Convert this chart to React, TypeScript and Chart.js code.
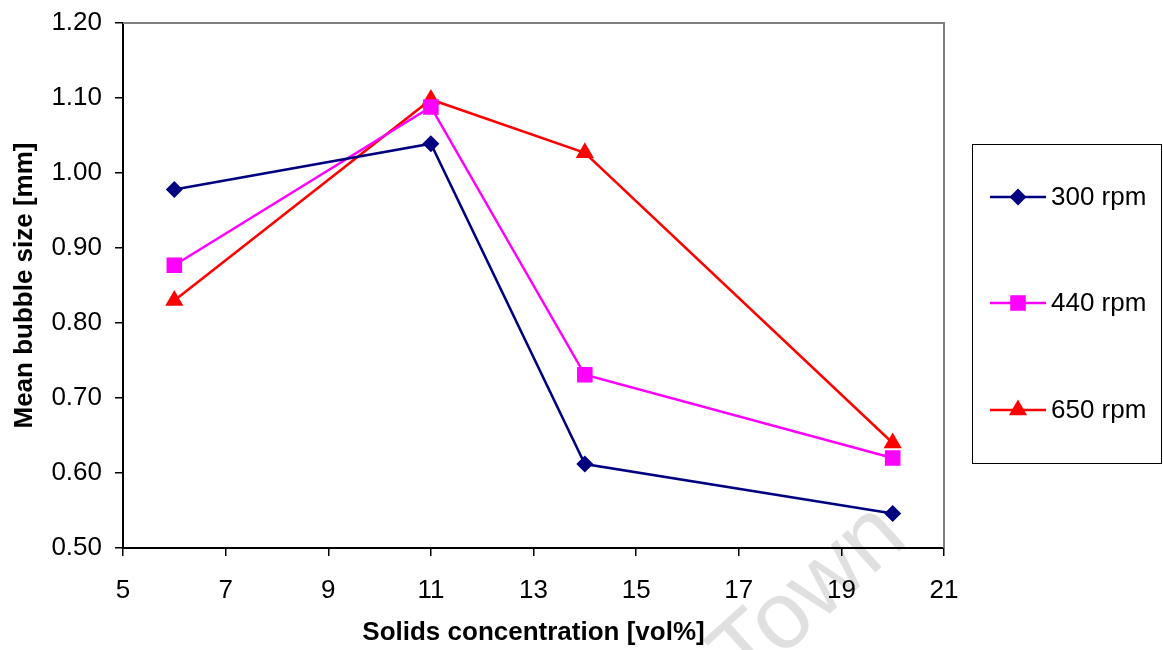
import React, { useEffect, useRef } from 'react';
import { Chart, registerables } from 'chart.js';

Chart.register(...registerables);

const xValues = [6, 11, 14, 20];
const rpm300 = [0.978, 1.039, 0.612, 0.546];
const rpm440 = [0.877, 1.088, 0.731, 0.620];
const rpm650 = [0.830, 1.098, 1.027, 0.640];
const seriesLabels = ['300 rpm', '440 rpm', '650 rpm'];
const seriesColors = ['#000080', '#FF00FF', '#FF0000'];
const seriesStyles = ['rectRot', 'rect', 'triangle'];
const seriesRadii = [8.5, 11, 10.5];
const xTitle = 'Solids concentration [vol%]';
const yTitle = 'Mean bubble size [mm]';
const watermark = 'Town';

const FONT = '"Liberation Sans", Arial, sans-serif';

function drawMarker(ctx: CanvasRenderingContext2D, style: string, r: number, x: number, y: number) {
  ctx.beginPath();
  if (style === 'rectRot') {
    ctx.moveTo(x, y - r);
    ctx.lineTo(x + r, y);
    ctx.lineTo(x, y + r);
    ctx.lineTo(x - r, y);
    ctx.closePath();
  } else if (style === 'rect') {
    const s = r * Math.SQRT1_2;
    ctx.rect(x - s, y - s, 2 * s, 2 * s);
  } else {
    ctx.moveTo(x, y - r);
    ctx.lineTo(x + r * 0.866, y + r * 0.5);
    ctx.lineTo(x - r * 0.866, y + r * 0.5);
    ctx.closePath();
  }
  ctx.fill();
}

const framePlugin = {
  id: 'frame',
  beforeDraw(chart: any) {
    const ctx = chart.ctx as CanvasRenderingContext2D;
    ctx.save();
    ctx.fillStyle = '#ffffff';
    ctx.fillRect(0, 0, chart.width, chart.height);
    ctx.translate(745, 690);
    ctx.rotate(-42 * Math.PI / 180);
    ctx.fillStyle = '#e0e0e0';
    ctx.font = `95px ${FONT}`;
    ctx.textBaseline = 'alphabetic';
    ctx.textAlign = 'left';
    ctx.fillText(watermark, 0, 0);
    ctx.restore();
  },
  beforeDatasetsDraw(chart: any) {
    const { ctx, chartArea } = chart;
    ctx.save();
    ctx.strokeStyle = '#808080';
    ctx.lineWidth = 2;
    ctx.beginPath();
    ctx.moveTo(chartArea.left, chartArea.top);
    ctx.lineTo(chartArea.right, chartArea.top);
    ctx.lineTo(chartArea.right, chartArea.bottom);
    ctx.stroke();
    ctx.restore();
  },
  afterDraw(chart: any) {
    const ctx = chart.ctx as CanvasRenderingContext2D;
    ctx.save();
    ctx.strokeStyle = '#000000';
    ctx.lineWidth = 1;
    ctx.strokeRect(972.5, 144.5, 189, 319);
    const ys = [197, 303, 410];
    chart.data.datasets.forEach((ds: any, i: number) => {
      const y = ys[i];
      ctx.strokeStyle = ds.borderColor;
      ctx.lineWidth = 2.5;
      ctx.beginPath();
      ctx.moveTo(990, y);
      ctx.lineTo(1046, y);
      ctx.stroke();
      ctx.fillStyle = ds.pointBackgroundColor;
      drawMarker(ctx, ds.pointStyle, ds.pointRadius, 1018, y);
      ctx.fillStyle = '#000000';
      ctx.font = `26px ${FONT}`;
      ctx.textBaseline = 'middle';
      ctx.textAlign = 'left';
      ctx.fillText(ds.label, 1051, y + 1);
    });
    ctx.restore();
  },
};

export default function App() {
  const ref = useRef<HTMLCanvasElement | null>(null);
  useEffect(() => {
    if (!ref.current) return;
    const series = [rpm300, rpm440, rpm650];
    const chart = new Chart(ref.current, {
      type: 'line',
      data: {
        datasets: series.map((vals, i) => ({
          label: seriesLabels[i],
          data: vals.map((v, j) => ({ x: xValues[j], y: v })),
          borderColor: seriesColors[i],
          backgroundColor: seriesColors[i],
          pointBackgroundColor: seriesColors[i],
          pointBorderColor: seriesColors[i],
          pointBorderWidth: 0,
          pointStyle: seriesStyles[i] as any,
          pointRadius: seriesRadii[i],
          borderWidth: 2.5,
          tension: 0,
          fill: false,
        })),
      },
      options: {
        animation: false,
        responsive: false,
        events: [],
        layout: { padding: { left: 0, right: 219, top: 23, bottom: 0 } },
        plugins: { legend: { display: false }, tooltip: { enabled: false } },
        scales: {
          x: {
            type: 'linear',
            min: 5,
            max: 21,
            ticks: { stepSize: 2, color: '#000', font: { family: FONT, size: 26 }, padding: 19, maxRotation: 0 },
            grid: { drawOnChartArea: false, drawTicks: true, tickLength: 8, color: '#000', lineWidth: 1.5 },
            border: { display: true, color: '#000', width: 2 },
            title: { display: true, text: xTitle, color: '#000', font: { family: FONT, size: 26, weight: 'bold' }, padding: { top: 0, bottom: 2 } },
            afterFit: (s: any) => { s.height = 102; s.paddingLeft = 0; s.paddingRight = 0; },
          },
          y: {
            type: 'linear',
            min: 0.5,
            max: 1.2,
            ticks: { stepSize: 0.1, color: '#000', font: { family: FONT, size: 26 }, padding: 13, callback: (v: any) => Number(v).toFixed(2) },
            grid: { drawOnChartArea: false, drawTicks: true, tickLength: 8, color: '#000', lineWidth: 1.5 },
            border: { display: true, color: '#000', width: 2 },
            title: { display: true, text: yTitle, color: '#000', font: { family: FONT, size: 26, weight: 'bold' }, padding: { top: 9, bottom: 0 } },
            afterFit: (s: any) => { s.width = 123; s.paddingTop = 0; s.paddingBottom = 0; },
          },
        },
      },
      plugins: [framePlugin],
    });
    return () => chart.destroy();
  }, []);
  return (
    <div style={{ position: 'absolute', left: 0, top: 0, width: 1163, height: 650 }}>
      <canvas ref={ref} width={1163} height={650} />
    </div>
  );
}
